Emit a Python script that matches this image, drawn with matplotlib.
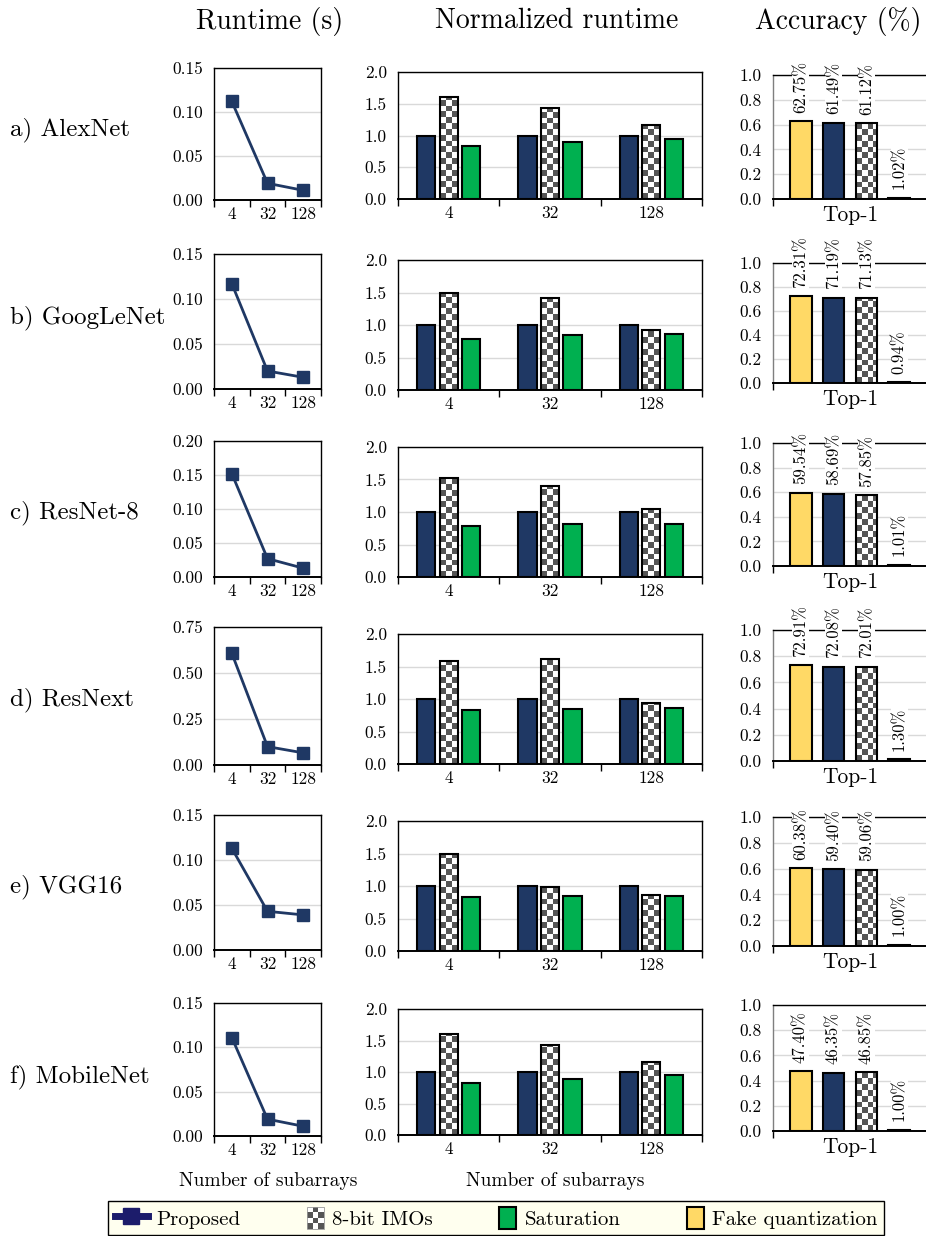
import numpy as np
import matplotlib
matplotlib.use("Agg")
import matplotlib.pyplot as plt
from matplotlib.colors import ListedColormap
from matplotlib.patches import Rectangle
from matplotlib.lines import Line2D
from matplotlib.legend_handler import HandlerBase

plt.rcParams["font.family"] = ["cmr10", "DejaVu Serif"]
plt.rcParams["axes.formatter.use_mathtext"] = True

# ---------------------------------------------------------------- data
networks = ["a) AlexNet", "b) GoogLeNet", "c) ResNet-8",
            "d) ResNext", "e) VGG16", "f) MobileNet"]
subarrays = ["4", "32", "128"]

runtime_s = [
    [0.112, 0.019, 0.011],
    [0.117, 0.020, 0.013],
    [0.152, 0.027, 0.013],
    [0.607, 0.100, 0.066],
    [0.113, 0.043, 0.039],
    [0.111, 0.019, 0.011],
]
runtime_ymax = [0.15, 0.15, 0.20, 0.75, 0.15, 0.15]
runtime_step = [0.05, 0.05, 0.05, 0.25, 0.05, 0.05]

norm_proposed = [
    [1.0, 1.0, 1.0],
    [1.0, 1.0, 1.0],
    [1.0, 1.0, 1.0],
    [1.0, 1.0, 1.0],
    [1.0, 1.0, 1.0],
    [1.0, 1.0, 1.0],
]
norm_imo8 = [
    [1.61, 1.43, 1.16],
    [1.50, 1.42, 0.93],
    [1.52, 1.40, 1.05],
    [1.58, 1.61, 0.94],
    [1.50, 0.98, 0.86],
    [1.61, 1.43, 1.16],
]
norm_saturation = [
    [0.83, 0.89, 0.95],
    [0.79, 0.84, 0.86],
    [0.79, 0.81, 0.82],
    [0.83, 0.85, 0.86],
    [0.83, 0.84, 0.84],
    [0.83, 0.89, 0.95],
]

acc_fake = [62.75, 72.31, 59.54, 72.91, 60.38, 47.40]
acc_proposed = [61.49, 71.19, 58.69, 72.08, 59.40, 46.35]
acc_imo8 = [61.12, 71.13, 57.85, 72.01, 59.06, 46.85]
acc_saturation = [1.02, 0.94, 1.01, 1.30, 1.00, 1.00]

# ---------------------------------------------------------------- style
NAVY = "#1f3864"
GREEN = "#00b050"
YELLOW = "#ffd966"
CHECK_DARK = "#555555"
GRID = "#d9d9d9"
W, H = 926, 1236
TICK_FS = 12.5

# pixel boxes (left, top, right, bottom) of every panel
runtime_box = [(214, 68, 321, 200), (214, 254, 321, 389), (214, 441, 321, 577),
               (214, 627, 321, 765), (214, 815, 321, 950), (214, 1003, 321, 1136)]
norm_box = [(398, 72, 702, 199), (398, 260, 702, 390), (398, 447, 702, 577),
            (398, 634, 702, 764), (398, 821, 702, 951), (398, 1009, 702, 1135)]
acc_box = [(773, 75, 927, 199), (773, 263, 927, 383), (773, 443, 927, 566),
           (773, 630, 927, 761), (773, 817, 927, 946), (773, 1005, 927, 1131)]
label_y = [130, 318, 513, 700, 887, 1077]

fig = plt.figure(figsize=(W / 100, H / 100), dpi=100)


def add_ax(box):
    l, t, r, b = box
    return fig.add_axes([l / W, 1 - b / H, (r - l) / W, (b - t) / H])


def checker_fill(ax, bar, cell_px=5.8):
    x0, y0 = bar.get_x(), bar.get_y()
    w, h = bar.get_width(), bar.get_height()
    (px0, py0), (px1, py1) = ax.transData.transform([(x0, y0), (x0 + w, y0 + h)])
    wpx, hpx = px1 - px0, py1 - py0
    if hpx <= 0:
        return
    nx = max(1, int(np.ceil(wpx / cell_px)))
    ny = max(1, int(np.ceil(hpx / cell_px)))
    dx = cell_px * w / wpx
    dy = cell_px * h / hpx
    grid = np.add.outer(np.arange(ny), np.arange(nx)) % 2
    im = ax.imshow(grid, cmap=ListedColormap([CHECK_DARK, "white"]),
                   extent=(x0, x0 + nx * dx, y0, y0 + ny * dy), origin="lower",
                   interpolation="nearest", aspect="auto", zorder=2.1)
    im.set_clip_path(bar)


def style_common(ax):
    ax.tick_params(axis="y", length=0, pad=8, labelsize=TICK_FS)
    ax.tick_params(axis="x", which="major", direction="out", length=5,
                   width=1.0, labelbottom=False)
    ax.tick_params(axis="x", which="minor", length=0, pad=5, labelsize=TICK_FS)
    ax.set_axisbelow(True)


for i, name in enumerate(networks):
    # ---------------- runtime line panel
    ax = add_ax(runtime_box[i])
    xs = np.arange(len(subarrays))
    ax.plot(xs, runtime_s[i], color=NAVY, lw=2.0, marker="s", ms=8.5,
            markerfacecolor=NAVY, markeredgecolor=NAVY, zorder=3, clip_on=False)
    ax.set_xlim(-0.5, 2.5)
    ax.set_ylim(0, runtime_ymax[i])
    yt = np.arange(0, runtime_ymax[i] + 1e-9, runtime_step[i])
    ax.set_yticks(yt)
    ax.set_yticklabels([f"{v:.2f}" for v in yt])
    ax.set_xticks([-0.5, 0.5, 1.5, 2.5])
    ax.set_xticks(xs, minor=True)
    ax.set_xticklabels(subarrays, minor=True)
    ax.grid(axis="y", color=GRID, lw=1.0)
    style_common(ax)
    for s in ax.spines.values():
        s.set_linewidth(1.0)
        s.set_color("black")
    ax.spines["bottom"].set_linewidth(1.4)

    # ---------------- normalized runtime bars
    ax = add_ax(norm_box[i])
    ax.set_xlim(-0.5, 2.5)
    ax.set_ylim(0, 2.0)
    bw, off = 0.178, 0.222
    ax.bar(xs - off, norm_proposed[i], bw, color=NAVY, edgecolor="black", lw=1.5, zorder=2)
    imo = ax.bar(xs, norm_imo8[i], bw, color="white", edgecolor="none", zorder=2)
    for b in imo:
        checker_fill(ax, b)
    ax.bar(xs, norm_imo8[i], bw, color="none", edgecolor="black", lw=1.5, zorder=2.2)
    ax.bar(xs + off, norm_saturation[i], bw, color=GREEN, edgecolor="black", lw=1.5, zorder=2)
    ax.set_xlim(-0.5, 2.5)
    ax.set_ylim(0, 2.0)
    yt = np.arange(0, 2.01, 0.5)
    ax.set_yticks(yt)
    ax.set_yticklabels([f"{v:.1f}" for v in yt])
    ax.set_xticks([-0.5, 0.5, 1.5, 2.5])
    ax.set_xticks(xs, minor=True)
    ax.set_xticklabels(subarrays, minor=True)
    ax.grid(axis="y", color=GRID, lw=1.0)
    style_common(ax)
    for s in ax.spines.values():
        s.set_linewidth(1.0)
        s.set_color("black")
    ax.spines["bottom"].set_linewidth(1.4)

    # ---------------- accuracy bars
    ax = add_ax(acc_box[i])
    ax.set_xlim(-1, 1)
    ax.set_ylim(0, 1.0)
    aw, sp = 0.285, 0.428
    pos = np.array([-1.5, -0.5, 0.5, 1.5]) * sp
    vals = [acc_fake[i], acc_proposed[i], acc_imo8[i], acc_saturation[i]]
    ax.bar(pos[0], vals[0] / 100, aw, color=YELLOW, edgecolor="black", lw=1.5, zorder=2)
    ax.bar(pos[1], vals[1] / 100, aw, color=NAVY, edgecolor="black", lw=1.5, zorder=2)
    cb = ax.bar(pos[2], vals[2] / 100, aw, color="white", edgecolor="none", zorder=2)
    checker_fill(ax, cb[0])
    ax.bar(pos[2], vals[2] / 100, aw, color="none", edgecolor="black", lw=1.5, zorder=2.2)
    ax.bar(pos[3], vals[3] / 100, aw, color=GREEN, edgecolor="black", lw=1.5, zorder=2)
    for p, v in zip(pos, vals):
        ax.annotate(f"{v:.2f}%", (p, v / 100), xytext=(0, 6), textcoords="offset points",
                    rotation=90, ha="center", va="bottom", fontsize=12,
                    annotation_clip=False, zorder=5,
                    bbox=dict(facecolor="white", edgecolor="none", pad=0.5))
    ax.set_xlim(-1, 1)
    ax.set_ylim(0, 1.0)
    yt = np.arange(0, 1.01, 0.2)
    ax.set_yticks(yt)
    ax.set_yticklabels([f"{v:.1f}" for v in yt])
    ax.set_xticks([-1, 1])
    ax.set_xticks([0], minor=True)
    ax.set_xticklabels(["Top-1"], minor=True)
    ax.grid(axis="y", color=GRID, lw=1.0)
    style_common(ax)
    ax.tick_params(axis="x", which="minor", labelsize=15.5, pad=5)
    ax.spines["right"].set_visible(False)
    ax.spines["left"].set_color("#7f7f7f")
    ax.spines["left"].set_linewidth(1.0)
    ax.spines["top"].set_linewidth(1.0)
    ax.spines["bottom"].set_linewidth(1.4)

    # ---------------- row label
    fig.text(10 / W, 1 - label_y[i] / H, name, fontsize=18, ha="left", va="center")

# column titles
fig.text(270 / W, 1 - 21 / H, "Runtime (s)", fontsize=20, ha="center", va="center")
fig.text(557 / W, 1 - 21 / H, "Normalized runtime", fontsize=20, ha="center", va="center")
fig.text(838 / W, 1 - 21 / H, "Accuracy (%)", fontsize=20, ha="center", va="center")

# axis captions
fig.text(268 / W, 1 - 1181 / H, "Number of subarrays", fontsize=14, ha="center", va="center")
fig.text(555 / W, 1 - 1181 / H, "Number of subarrays", fontsize=14, ha="center", va="center")


# ---------------------------------------------------------------- legend
class PatchRight(HandlerBase):
    def __init__(self, face, checker=False, wfrac=0.5):
        super().__init__()
        self.face, self.checker, self.wfrac = face, checker, wfrac

    def create_artists(self, legend, orig_handle, xdescent, ydescent,
                       width, height, fontsize, trans):
        pw = width * self.wfrac
        x0 = -xdescent + width - pw
        y0 = -ydescent
        arts = []
        if self.checker:
            nx, ny = 3, 4
            cw, ch = pw / nx, height / ny
            for a in range(nx):
                for b in range(ny):
                    c = CHECK_DARK if (a + b) % 2 == 0 else "white"
                    arts.append(Rectangle((x0 + a * cw, y0 + b * ch), cw, ch,
                                          facecolor=c, edgecolor="none", transform=trans))
            arts.append(Rectangle((x0, y0), pw, height, facecolor="none",
                                  edgecolor="#999999", lw=0.6, transform=trans))
        else:
            arts.append(Rectangle((x0, y0), pw, height, facecolor=self.face,
                                  edgecolor="black", lw=1.5, transform=trans))
        return arts


h_prop = Line2D([0], [0], color="#1c1c6b", lw=5, marker="s", ms=12,
                markerfacecolor="#1c1c6b", markeredgecolor="#1c1c6b")
h_imo = Rectangle((0, 0), 1, 1)
h_sat = Rectangle((0, 0), 1, 1)
h_fake = Rectangle((0, 0), 1, 1)
leg = fig.legend([h_prop, h_imo, h_sat, h_fake],
                 ["Proposed", "8-bit IMOs", "Saturation", "Fake quantization"],
                 handler_map={h_imo: PatchRight(None, checker=True),
                              h_sat: PatchRight(GREEN),
                              h_fake: PatchRight(YELLOW)},
                 loc="center", bbox_to_anchor=(496 / W, 1 - 1218 / H),
                 ncol=4, fontsize=15, frameon=True, fancybox=False,
                 handlelength=1.6, handleheight=1.2, handletextpad=0.4,
                 columnspacing=2.4, borderpad=0.3, borderaxespad=0)
leg.get_frame().set_facecolor("#ffffef")
leg.get_frame().set_edgecolor("black")
leg.get_frame().set_linewidth(1.0)
leg.get_frame().set_alpha(1.0)

fig.savefig("out.png", dpi=100)
